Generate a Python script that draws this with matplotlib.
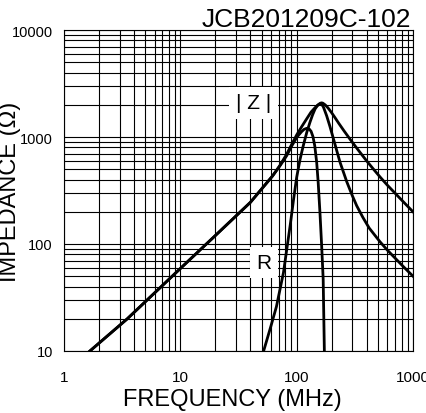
import matplotlib
matplotlib.use("Agg")
import matplotlib.pyplot as plt
from matplotlib.ticker import NullFormatter, LogLocator

plt.rcParams['font.family'] = ['Liberation Sans', 'DejaVu Sans']

title = "JCB201209C-102"
x_ticks = [1, 10, 100, 1000]
x_labels = ["1", "10", "100", "1000"]
y_ticks = [10, 100, 1000, 10000]
y_labels = ["10", "100", "1000", "10000"]

# reactance curve (MHz, ohm)
x_freq = [1.0, 1.67, 3.5, 10, 20, 40, 62, 72, 82, 91, 100, 110, 116, 122,
          128, 133, 138, 143, 148.6, 153, 158.5, 164, 169, 173, 176]
x_imp = [6.0, 10, 20, 59, 120, 245, 432, 540, 668, 830, 990, 1120, 1180,
         1205, 1190, 1130, 1010, 830, 580, 380, 198, 96, 47, 10, 5]

# |Z| curve
z_freq = [1.0, 1.67, 3.5, 10, 20, 40, 62, 72, 82, 91, 100, 110, 122, 133,
          144, 152, 160, 164, 168, 176, 186, 198, 212, 230, 255, 287, 320,
          360, 400, 450, 520, 600, 700, 820, 1000]
z_imp = [6.0, 10, 20, 59, 120, 245, 432, 545, 690, 860, 1045, 1240, 1480,
         1710, 1880, 1990, 2070, 2085, 2070, 1995, 1870, 1710, 1535, 1343,
         1143, 957, 817, 692, 597, 511, 424, 356, 299, 250, 200]

# R curve
r_freq = [48, 52, 60, 67, 77, 88, 94, 100, 107, 114, 122, 130, 137, 144,
          151, 158, 164, 170, 181, 193, 205, 220, 236, 270, 300, 328, 370,
          420, 520, 600, 700, 820, 1000]
r_imp = [7.2, 10, 17, 26, 54, 150, 260, 420, 620, 830, 1100, 1370, 1610,
         1830, 1970, 2040, 2030, 1900, 1580, 1260, 1000, 760, 580, 380, 285,
         228, 178, 141, 105, 88, 74, 62, 50]


def main():
    fig = plt.figure(figsize=(4.26, 4.14), dpi=100)
    ax = fig.add_axes([64 / 426, 1 - 352 / 414, 349 / 426, 321 / 414])
    ax.set_xscale("log")
    ax.set_yscale("log")
    ax.set_xlim(1, 1000)
    ax.set_ylim(10, 10000)

    ax.xaxis.set_minor_locator(LogLocator(base=10, subs=range(2, 10)))
    ax.yaxis.set_minor_locator(LogLocator(base=10, subs=range(2, 10)))
    ax.xaxis.set_minor_formatter(NullFormatter())
    ax.yaxis.set_minor_formatter(NullFormatter())
    ax.set_xticks(x_ticks, x_labels)
    ax.set_yticks(y_ticks, y_labels)
    ax.tick_params(which="both", length=0)
    ax.tick_params(axis="x", labelsize=11, pad=14)
    ax.tick_params(axis="y", labelsize=10.5, pad=8)
    ax.grid(True, which="both", color="black", linewidth=0.8)
    for s in ax.spines.values():
        s.set_linewidth(0.8)

    ax.plot(x_freq, x_imp, color="black", linewidth=2.0)
    ax.plot(z_freq, z_imp, color="black", linewidth=2.0)
    ax.plot(r_freq, r_imp, color="black", linewidth=2.0)

    ax.text(42.6, 2080, "| Z |", fontsize=15, ha="center", va="center",
            bbox=dict(facecolor="white", edgecolor="none", pad=5))
    ax.text(52.4, 67, "R", fontsize=15, ha="center", va="center",
            bbox=dict(facecolor="white", edgecolor="none", pad=4.5))

    fig.text(411 / 426, 1 - 27 / 414, title, fontsize=19, ha="right",
             va="baseline")
    fig.text(232 / 426, 1 - 406 / 414, "FREQUENCY (MHz)", fontsize=17,
             ha="center", va="baseline")
    fig.text(10.5 / 426, 1 - 192 / 414, "IMPEDANCE (Ω)", fontsize=17,
             ha="center", va="center", rotation=90)

    fig.savefig("out.png", dpi=100)


if __name__ == "__main__":
    main()
